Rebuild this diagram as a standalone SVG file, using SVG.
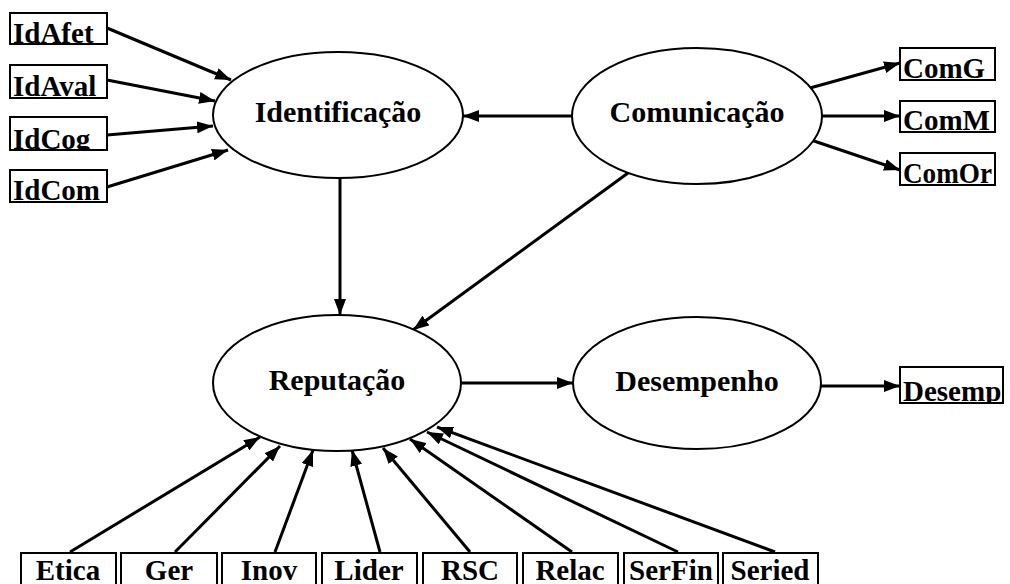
<svg xmlns="http://www.w3.org/2000/svg" width="1010" height="584" viewBox="0 0 1010 584">
  <style>
    .lbl { font-family: "Liberation Serif", "Times New Roman", serif; font-weight: bold; font-size: 29px; fill: #000; }
    .big { font-size: 30px; }
    .mid { text-anchor: middle; }
    .box { fill: #fff; stroke: #000; stroke-width: 2; }
    .ell { fill: #fff; stroke: #000; stroke-width: 2; }
    .edge { fill: none; stroke: #000; stroke-width: 3; marker-end: url(#arrow); }
  </style>
  <defs>
    <marker id="arrow" viewBox="0 0 16 12" refX="16" refY="6" markerWidth="16" markerHeight="12" markerUnits="userSpaceOnUse" orient="auto">
      <path d="M0,0 L16,6 L0,12 z" fill="#000"/>
    </marker>
    <clipPath id="c-idafet"><rect x="10" y="13" width="97" height="31"/></clipPath>
    <clipPath id="c-idaval"><rect x="10" y="65" width="97" height="33"/></clipPath>
    <clipPath id="c-idcog"><rect x="10" y="117" width="97" height="33"/></clipPath>
    <clipPath id="c-idcom"><rect x="10" y="170" width="97" height="32"/></clipPath>
    <clipPath id="c-comg"><rect x="900" y="48" width="95" height="32"/></clipPath>
    <clipPath id="c-comm"><rect x="900" y="101" width="95" height="31"/></clipPath>
    <clipPath id="c-comor"><rect x="900" y="153" width="95" height="32"/></clipPath>
    <clipPath id="c-desemp"><rect x="900" y="367" width="103" height="36"/></clipPath>
  </defs>

  <rect width="1010" height="584" fill="#fff"/>

  <!-- connectors -->
  <g id="connectors">
    <line class="edge" x1="107" y1="28" x2="231" y2="80"/>
    <line class="edge" x1="107" y1="80" x2="215" y2="101"/>
    <line class="edge" x1="107" y1="135" x2="213" y2="126"/>
    <line class="edge" x1="107" y1="187" x2="228" y2="150"/>
    <line class="edge" x1="572" y1="116" x2="463" y2="116"/>
    <line class="edge" x1="810" y1="88" x2="900" y2="63"/>
    <line class="edge" x1="822" y1="116" x2="900" y2="116"/>
    <line class="edge" x1="811" y1="140" x2="900" y2="170"/>
    <line class="edge" x1="340" y1="178" x2="340" y2="315"/>
    <line class="edge" x1="628" y1="173" x2="413" y2="330"/>
    <line class="edge" x1="461" y1="383" x2="573" y2="383"/>
    <line class="edge" x1="821" y1="386" x2="900" y2="386"/>
    <line class="edge" x1="70" y1="552" x2="260" y2="437"/>
    <line class="edge" x1="175" y1="552" x2="280" y2="446"/>
    <line class="edge" x1="275" y1="552" x2="313" y2="450"/>
    <line class="edge" x1="380" y1="552" x2="352" y2="450"/>
    <line class="edge" x1="470" y1="552" x2="383" y2="448"/>
    <line class="edge" x1="572" y1="552" x2="410" y2="439"/>
    <line class="edge" x1="678" y1="552" x2="427" y2="432"/>
    <line class="edge" x1="775" y1="552" x2="437" y2="427"/>
  </g>

  <!-- latent constructs -->
  <g id="identificacao">
    <ellipse class="ell" cx="338" cy="115" rx="125" ry="63"/>
    <text class="lbl big mid" x="338" y="122">Identificação</text>
  </g>
  <g id="comunicacao">
    <ellipse class="ell" cx="697" cy="116" rx="125" ry="68"/>
    <text class="lbl big mid" x="697" y="122">Comunicação</text>
  </g>
  <g id="reputacao">
    <ellipse class="ell" cx="337" cy="383" rx="124" ry="68"/>
    <text class="lbl big mid" x="337" y="390">Reputação</text>
  </g>
  <g id="desempenho">
    <ellipse class="ell" cx="697" cy="383" rx="124" ry="66"/>
    <text class="lbl big mid" x="697" y="391">Desempenho</text>
  </g>

  <!-- indicators: identification -->
  <g id="idafet">
    <rect class="box" x="10" y="13" width="97" height="31"/>
    <text class="lbl" x="13" y="43" clip-path="url(#c-idafet)">IdAfet</text>
  </g>
  <g id="idaval">
    <rect class="box" x="10" y="65" width="97" height="33"/>
    <text class="lbl" x="13" y="96" clip-path="url(#c-idaval)">IdAval</text>
  </g>
  <g id="idcog">
    <rect class="box" x="10" y="117" width="97" height="33"/>
    <text class="lbl" x="13" y="149" clip-path="url(#c-idcog)">IdCog</text>
  </g>
  <g id="idcom">
    <rect class="box" x="10" y="170" width="97" height="32"/>
    <text class="lbl" x="13" y="200" clip-path="url(#c-idcom)">IdCom</text>
  </g>

  <!-- indicators: communication -->
  <g id="comg">
    <rect class="box" x="900" y="48" width="95" height="32"/>
    <text class="lbl" x="903" y="78" clip-path="url(#c-comg)">ComG</text>
  </g>
  <g id="comm">
    <rect class="box" x="900" y="101" width="95" height="31"/>
    <text class="lbl" x="903" y="130" clip-path="url(#c-comm)">ComM</text>
  </g>
  <g id="comor">
    <rect class="box" x="900" y="153" width="95" height="32"/>
    <text class="lbl" x="903" y="183" textLength="89" lengthAdjust="spacingAndGlyphs" clip-path="url(#c-comor)">ComOr</text>
  </g>

  <!-- indicator: performance -->
  <g id="desemp">
    <rect class="box" x="900" y="367" width="103" height="36"/>
    <text class="lbl" x="903" y="401" clip-path="url(#c-desemp)">Desemp</text>
  </g>

  <!-- indicators: reputation -->
  <g id="etica">
    <rect class="box" x="21" y="553" width="95" height="50"/>
    <text class="lbl mid" x="68" y="580">Etica</text>
  </g>
  <g id="ger">
    <rect class="box" x="121" y="553" width="96" height="50"/>
    <text class="lbl mid" x="169" y="580">Ger</text>
  </g>
  <g id="inov">
    <rect class="box" x="222" y="553" width="94" height="50"/>
    <text class="lbl mid" x="269" y="580">Inov</text>
  </g>
  <g id="lider">
    <rect class="box" x="322" y="553" width="95" height="50"/>
    <text class="lbl mid" x="369" y="580">Lider</text>
  </g>
  <g id="rsc">
    <rect class="box" x="423" y="553" width="94" height="50"/>
    <text class="lbl mid" x="470" y="580">RSC</text>
  </g>
  <g id="relac">
    <rect class="box" x="523" y="553" width="95" height="50"/>
    <text class="lbl mid" x="570" y="580">Relac</text>
  </g>
  <g id="serfin">
    <rect class="box" x="624" y="553" width="94" height="50"/>
    <text class="lbl mid" x="671" y="580">SerFin</text>
  </g>
  <g id="seried">
    <rect class="box" x="723" y="553" width="95" height="50"/>
    <text class="lbl mid" x="770" y="580">Seried</text>
  </g>
</svg>
